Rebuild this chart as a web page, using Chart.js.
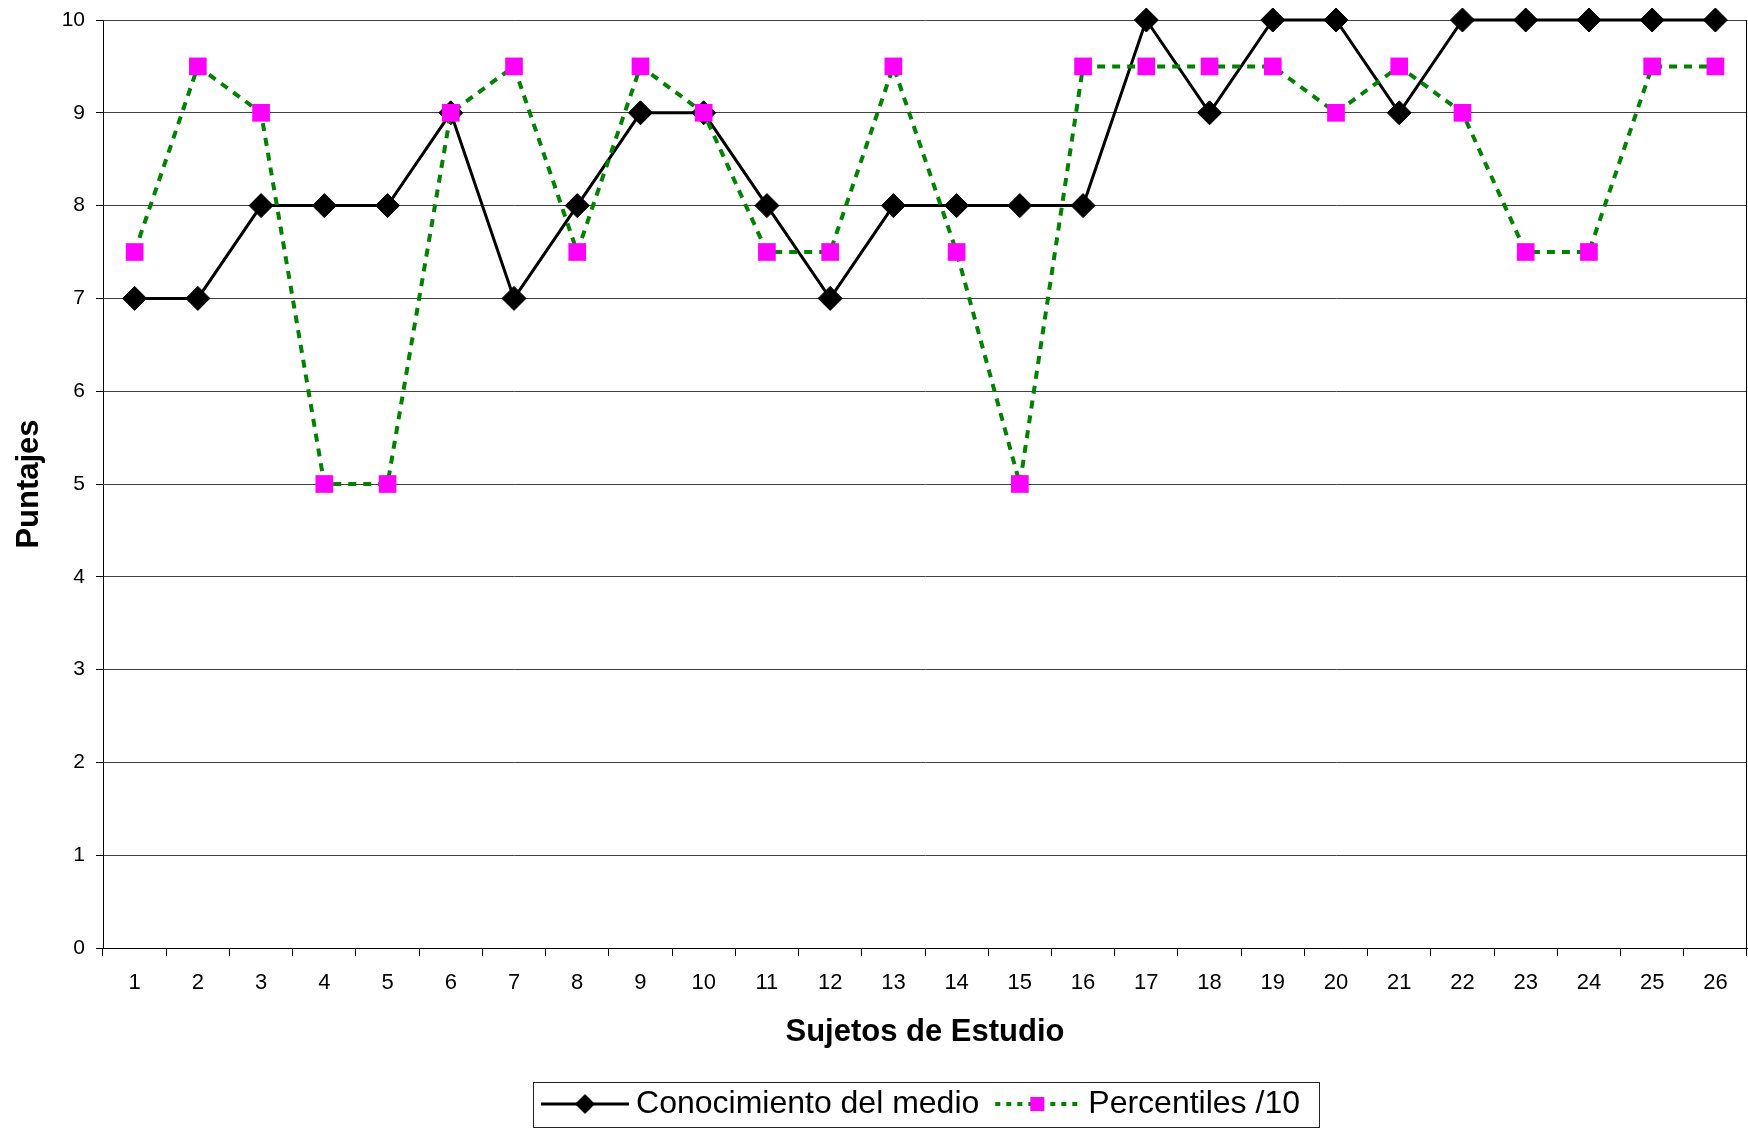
<!DOCTYPE html>
<html>
<head>
<meta charset="utf-8">
<script src="https://cdn.jsdelivr.net/npm/chart.js@4"></script>
<style>
html, body { margin: 0; padding: 0; background: #fff; overflow: hidden; }
#wrap { width: 1748px; height: 1131px; overflow: hidden; }
canvas { display: block; }
</style>
</head>
<body>
<div id="wrap"><canvas id="c" width="1748" height="1131"></canvas></div>
<script>
const categories = ['1','2','3','4','5','6','7','8','9','10','11','12','13','14','15','16','17','18','19','20','21','22','23','24','25','26'];
const conocimiento = [7,7,8,8,8,9,7,8,9,9,8,7,8,8,8,8,10,9,10,10,9,10,10,10,10,10];
const percentiles = [7.5,9.5,9,5,5,9,9.5,7.5,9.5,9,7.5,7.5,9.5,7.5,5,9.5,9.5,9.5,9.5,9,9.5,9,7.5,7.5,9.5,9.5];
const seriesNames = ['Conocimiento del medio', 'Percentiles /10'];
const yMin = 0, yMax = 10, yStep = 1;
const xTitle = 'Sujetos de Estudio';
const yTitle = 'Puntajes';

const FONT = "'Liberation Sans', Arial, Helvetica, sans-serif";
const GREEN = '#008000';
const MAGENTA = '#ff00ff';

function makeSymbol(kind) {
  const c = document.createElement('canvas');
  c.width = 88; c.height = 24;
  const g = c.getContext('2d');
  const cy = 12;
  if (kind === 0) {
    g.strokeStyle = '#000'; g.lineWidth = 3;
    g.beginPath(); g.moveTo(0, cy); g.lineTo(88, cy); g.stroke();
    g.fillStyle = '#000';
    g.beginPath(); g.moveTo(44 - 10, cy); g.lineTo(44, cy - 10); g.lineTo(44 + 10, cy); g.lineTo(44, cy + 10); g.closePath(); g.fill();
  } else {
    g.strokeStyle = GREEN; g.lineWidth = 4; g.setLineDash([5, 6]);
    g.beginPath(); g.moveTo(2, cy); g.lineTo(86, cy); g.stroke();
    g.fillStyle = MAGENTA;
    g.fillRect(44 - 7, cy - 7, 14, 14);
  }
  return c;
}
const symbols = [makeSymbol(0), makeSymbol(1)];

function zeroPad(s) { s.paddingLeft = 0; s.paddingRight = 0; s.paddingTop = 0; s.paddingBottom = 0; }

const framePlugin = {
  id: 'frame',
  afterDatasetsDraw(chart) {
    const {ctx, chartArea} = chart;
    ctx.save();
    ctx.strokeStyle = '#000';
    ctx.lineWidth = 1;
    ctx.beginPath();
    ctx.moveTo(Math.round(chartArea.right) - 0.5, chartArea.top);
    ctx.lineTo(Math.round(chartArea.right) - 0.5, chartArea.bottom);
    ctx.stroke();
    ctx.restore();
  },
  afterDraw(chart) {
    const lg = chart.legend;
    const ctx = chart.ctx;
    if (lg && lg.legendHitBoxes && lg.legendHitBoxes.length) {
      const hb = lg.legendHitBoxes;
      const last = hb[hb.length - 1];
      const l = Math.round(hb[0].left - 17);
      const r = Math.round(last.left + last.width + 19);
      const cy = hb[0].top + hb[0].height / 2;
      ctx.save();
      ctx.strokeStyle = '#222';
      ctx.lineWidth = 1;
      ctx.strokeRect(l + 0.5, Math.round(cy - 22) + 0.5, r - l, 45);
      ctx.restore();
    }
  }
};

new Chart(document.getElementById('c'), {
  type: 'line',
  data: {
    labels: categories,
    datasets: [
      {
        label: seriesNames[0],
        data: conocimiento,
        borderColor: '#000',
        backgroundColor: '#000',
        borderWidth: 3,
        tension: 0,
        pointStyle: 'rectRot',
        pointRadius: 12,
        pointBorderWidth: 1,
        pointBackgroundColor: '#000',
        pointBorderColor: '#000',
        clip: false,
        order: 1
      },
      {
        label: seriesNames[1],
        data: percentiles,
        borderColor: GREEN,
        backgroundColor: MAGENTA,
        borderWidth: 4,
        borderDash: [8, 7],
        borderCapStyle: 'butt',
        tension: 0,
        pointStyle: 'rect',
        pointRadius: 12.5,
        pointBorderWidth: 0,
        pointBackgroundColor: MAGENTA,
        pointBorderColor: MAGENTA,
        clip: false,
        order: 0
      }
    ]
  },
  options: {
    responsive: false,
    devicePixelRatio: 1,
    animation: false,
    events: [],
    layout: { autoPadding: false, padding: { top: 20, right: 1, bottom: 1, left: 0 } },
    plugins: {
      tooltip: { enabled: false },
      legend: {
        display: true,
        position: 'bottom',
        fullSize: false,
        labels: {
          font: { family: FONT, size: 32 },
          color: '#000',
          padding: 23,
          usePointStyle: true,
          pointStyleWidth: 70,
          generateLabels: () => seriesNames.map((name, i) => ({
            text: name,
            pointStyle: symbols[i],
            datasetIndex: i,
            hidden: false,
            fontColor: '#000',
            lineWidth: 0,
            strokeStyle: 'rgba(0,0,0,0)',
            fillStyle: 'rgba(0,0,0,0)'
          }))
        }
      }
    },
    scales: {
      x: {
        type: 'category',
        offset: true,
        afterFit: (s) => { s.height = 117; zeroPad(s); },
        grid: {
          offset: true,
          drawOnChartArea: false,
          drawTicks: true,
          tickLength: 8,
          color: '#000',
          tickColor: '#000'
        },
        border: { display: true, color: '#000', width: 1 },
        ticks: {
          font: { family: FONT, size: 22 },
          color: '#000',
          padding: 14,
          maxRotation: 0,
          autoSkip: false
        },
        title: {
          display: true,
          text: xTitle,
          font: { family: FONT, size: 31, weight: 'bold' },
          color: '#000',
          padding: { top: 0, bottom: 14 }
        }
      },
      y: {
        min: yMin,
        max: yMax,
        afterFit: (s) => { s.width = 103; zeroPad(s); },
        grid: {
          color: '#404040',
          lineWidth: 1,
          drawTicks: true,
          tickLength: 7,
          tickColor: '#000'
        },
        border: { display: true, color: '#000', width: 1 },
        ticks: {
          stepSize: yStep,
          font: { family: FONT, size: 21 },
          color: '#000',
          padding: 11
        },
        title: {
          display: true,
          text: yTitle,
          font: { family: FONT, size: 31, weight: 'bold' },
          color: '#000',
          padding: { top: 11, bottom: 0 }
        }
      }
    }
  },
  plugins: [framePlugin]
});
</script>
</body>
</html>
